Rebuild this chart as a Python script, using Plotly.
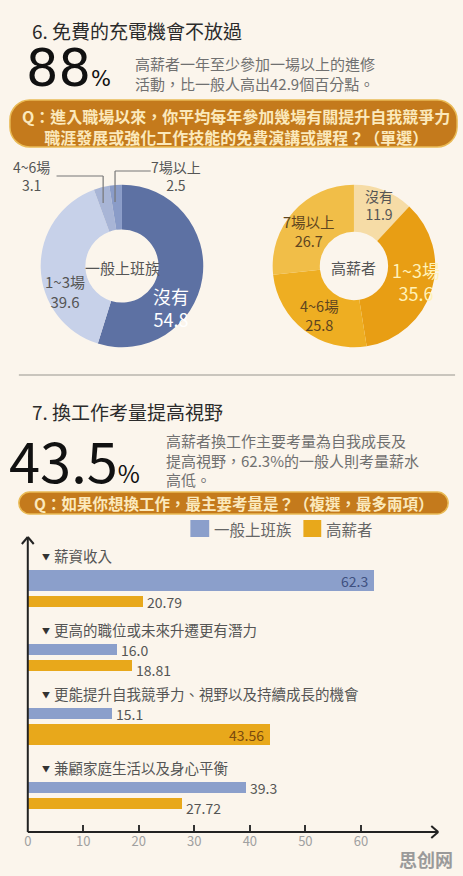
import plotly.graph_objects as go

# ---------------- data ----------------
donut_labels = ["沒有", "1~3場", "4~6場", "7場以上"]
office_share = [54.8, 39.6, 3.1, 2.5]
high_share = [11.9, 35.6, 25.8, 26.7]
donut_names = ["一般上班族", "高薪者"]

reasons = ["薪資收入", "更高的職位或未來升遷更有潛力",
           "更能提升自我競爭力、視野以及持續成長的機會", "兼顧家庭生活以及身心平衡"]
office_pct = [62.3, 16.0, 15.1, 39.3]
high_pct = [20.79, 18.81, 43.56, 27.72]
office_txt = ["62.3", "16.0", "15.1", "39.3"]
high_txt = ["20.79", "18.81", "43.56", "27.72"]
series_names = ["一般上班族", "高薪者"]
x_ticks = [0, 10, 20, 30, 40, 50, 60]

# ---------------- style ----------------
W, H = 463, 876
BG = "#FBF5EC"
FONT = "Noto Sans CJK TC"
BLUE = "#8B9FCB"
ORANGE = "#E8A81B"
PILL = "#C47A1C"
office_cols = ["#5D71A3", "#C7D1E9", "#A8B5D6", "#8A9CC8"]
high_cols = ["#F6DCA6", "#E89E14", "#EEAE22", "#F1BE48"]


def X(p):
    return p / W


def Y(p):
    return 1 - p / H


def T(text, x, y, size, color="#555", xa="left", ya="middle", align="left", family=FONT):
    return dict(text=text, x=X(x), y=Y(y), xref="paper", yref="paper", xanchor=xa,
                yanchor=ya, showarrow=False, align=align, borderpad=0,
                font=dict(size=size, color=color, family=family))


def pill(x0, y0, x1, y1, r):
    k = 0.5523 * r
    pts = [("M", [(x0 + r, y0)]), ("L", [(x1 - r, y0)]),
           ("C", [(x1 - r + k, y0), (x1, y0 + r - k), (x1, y0 + r)]),
           ("L", [(x1, y1 - r)]),
           ("C", [(x1, y1 - r + k), (x1 - r + k, y1), (x1 - r, y1)]),
           ("L", [(x0 + r, y1)]),
           ("C", [(x0 + r - k, y1), (x0, y1 - r + k), (x0, y1 - r)]),
           ("L", [(x0, y0 + r)]),
           ("C", [(x0, y0 + r - k), (x0 + r - k, y0), (x0 + r, y0)])]
    s = ""
    for cmd, ps in pts:
        s += cmd + " " + " ".join(f"{X(a):.5f},{Y(b):.5f}" for a, b in ps) + " "
    return dict(type="path", path=s + "Z", xref="paper", yref="paper",
                fillcolor=PILL, line=dict(color="#E9BA55", width=1.5), layer="below")


def L(x0, y0, x1, y1, color="#222", width=2):
    return dict(type="line", xref="paper", yref="paper", x0=X(x0), y0=Y(y0), x1=X(x1), y1=Y(y1),
                line=dict(color=color, width=width))


fig = go.Figure()

# ---------------- donuts ----------------
fig.add_trace(go.Pie(values=office_share, labels=donut_labels, hole=0.45, sort=False,
                     direction="clockwise", rotation=0, textinfo="none", hoverinfo="skip",
                     marker=dict(colors=office_cols, line=dict(width=0)), showlegend=False,
                     domain=dict(x=[X(37), X(201)], y=[Y(348), Y(184)])))
fig.add_trace(go.Pie(values=high_share, labels=donut_labels, hole=0.42, sort=False,
                     direction="clockwise", rotation=0, textinfo="none", hoverinfo="skip",
                     marker=dict(colors=high_cols, line=dict(width=0)), showlegend=False,
                     domain=dict(x=[X(271), X(435)], y=[Y(348), Y(184)])))

# ---------------- bars ----------------
thin, thick = 11, 21
pos_label, pos_o, pos_h, w_o, w_h = [], [], [], [], []
cur = 555
for i in range(len(reasons)):
    wo = thick if office_pct[i] == max(office_pct) else thin
    wh = thick if high_pct[i] == max(high_pct) else thin
    pos_label.append(cur)
    top = cur + 15
    pos_o.append(top + wo / 2)
    w_o.append(wo)
    top2 = top + wo + 5
    pos_h.append(top2 + wh / 2)
    w_h.append(wh)
    cur = top2 + wh + 22

fig.add_trace(go.Bar(x=office_pct, y=pos_o, width=w_o, orientation="h", name=series_names[0],
                     marker=dict(color=BLUE, line=dict(width=0)), showlegend=False, hoverinfo="skip"))
fig.add_trace(go.Bar(x=high_pct, y=pos_h, width=w_h, orientation="h", name=series_names[1],
                     marker=dict(color=ORANGE, line=dict(width=0)), showlegend=False, hoverinfo="skip"))

ann = []
# value labels
for k, (vals, txts, pos, ws, incol) in enumerate([(office_pct, office_txt, pos_o, w_o, "#3E5080"),
                                                  (high_pct, high_txt, pos_h, w_h, "#7A4A0E")]):
    for i, (v, t, p, w) in enumerate(zip(vals, txts, pos, ws)):
        inside = w == thick
        both_thin = w_o[i] == thin and w_h[i] == thin
        ys = -4 if (both_thin and k == 1) else 0
        ann.append(dict(text=t, x=v, y=p, xref="x", yref="y", showarrow=False,
                        xanchor="right" if inside else "left", xshift=-5 if inside else 3,
                        yshift=ys, yanchor="middle", borderpad=0,
                        font=dict(size=14, color=incol if inside else "#555", family=FONT)))
# category labels
for r, p in zip(reasons, pos_label):
    ann.append(dict(text="▼", x=X(42), y=p + 1, xref="paper", yref="y", showarrow=False,
                    xanchor="center", yanchor="middle", borderpad=0,
                    font=dict(size=8, color="#333", family=FONT)))
    ann.append(dict(text=r, x=X(49), y=p, xref="paper", yref="y", showarrow=False,
                    xanchor="left", yanchor="middle", borderpad=0,
                    font=dict(size=14.5, color="#555", family=FONT)))

# ---------------- texts ----------------
ann += [
    T("6. 免費的充電機會不放過", 27, 31, 19, "#2B2B2B"),
    T("88<span style='font-size:21px'>%</span>", 21, 69, 51, "#111", family="DejaVu Sans"),
    T("高薪者一年至少參加一場以上的進修<br>活動，比一般人高出42.9個百分點。", 131, 74, 15, "#707070"),
    T("<b>Q：進入職場以來，你平均每年參加幾場有關提升自我競爭力<br>職涯發展或強化工作技能的免費演講或課程？（單選）</b>",
      234, 126, 16, "#FBE9BC", xa="center", align="center"),
    # donut 1
    T("4~6場<br>3.1", 28, 176, 14, "#555", xa="center", align="center"),
    T("7場以上<br>2.5", 174, 176, 14, "#555", xa="center", align="center"),
    T("1~3場<br>39.6", 62, 291, 15, "#555", xa="center", align="center"),
    T("沒有<br>54.8", 168, 307, 18, "#FFFFFF", xa="center", align="center"),
    T("一般上班族", 120, 267, 15, "#555", xa="center"),
    # donut 2
    T("沒有<br>11.9", 378, 205, 14, "#555", xa="center", align="center"),
    T("7場以上<br>26.7", 308, 231, 14.5, "#5E4520", xa="center", align="center"),
    T("高薪者", 353, 267, 15, "#555", xa="center"),
    T("1~3場<br>35.6", 416, 282, 18, "#FFF2B8", xa="center", align="center"),
    T("4~6場<br>25.8", 318, 315, 14.5, "#5E4520", xa="center", align="center"),
    # section 7
    T("7. 換工作考量提高視野", 27, 411, 19, "#2B2B2B"),
    T("43.5<span style='font-size:24px'>%</span>", 4, 458, 56, "#111"),
    T("高薪者換工作主要考量為自我成長及<br>提高視野，62.3%的一般人則考量薪水<br>高低。", 162, 460, 15, "#707070"),
    T("<b>Q：如果你想換工作，最主要考量是？（複選，最多兩項）</b>", 231, 503, 15.5, "#FBE9BC", xa="center"),
    T(series_names[0], 211, 529, 15.5, "#666"),
    T(series_names[1], 324, 529, 15.5, "#666"),
    T("<b>思创网</b>", 426, 859, 18, "#9A9A9A", xa="center"),
]

shapes = [
    pill(6, 100, 457, 147, 20),
    pill(15, 492, 448, 514, 11),
    L(15, 375, 455, 375, "#B8B4AE", 1.5),
    # leader lines donut 1
    L(53, 176, 100, 176, "#777", 1.2), L(100, 176, 100, 203, "#777", 1.2),
    L(148, 171, 112, 171, "#777", 1.2), L(112, 171, 112, 202, "#777", 1.2),
    # legend swatches
    dict(type="rect", xref="paper", yref="paper", x0=X(188), x1=X(207), y0=Y(537), y1=Y(520),
         fillcolor=BLUE, line=dict(width=0)),
    dict(type="rect", xref="paper", yref="paper", x0=X(302), x1=X(320), y0=Y(537), y1=Y(520),
         fillcolor=ORANGE, line=dict(width=0)),
    # axes with arrows
    L(24, 832, 438, 832), L(24, 832, 24, 537),
    L(431, 826, 438, 832), L(431, 838, 438, 832),
    L(18, 544, 24, 537), L(30, 544, 24, 537),
]

fig.update_layout(
    width=W, height=H, autosize=False,
    margin=dict(l=0, r=0, t=0, b=0),
    paper_bgcolor=BG, plot_bgcolor="rgba(0,0,0,0)",
    barmode="overlay", bargap=0,
    xaxis=dict(domain=[X(24), X(437)], range=[0, 73.75], showgrid=False, zeroline=False,
               showline=False, ticks="inside", ticklen=7, tickwidth=1.5, tickcolor="#333",
               tickvals=x_ticks, ticktext=[str(v) for v in x_ticks],
               tickfont=dict(size=13, color="#A0A0A0", family=FONT), anchor="y", fixedrange=True),
    yaxis=dict(domain=[Y(832), Y(538)], range=[832, 538], visible=False, fixedrange=True),
    annotations=ann, shapes=shapes, showlegend=False,
)

fig.write_html("out.html")
